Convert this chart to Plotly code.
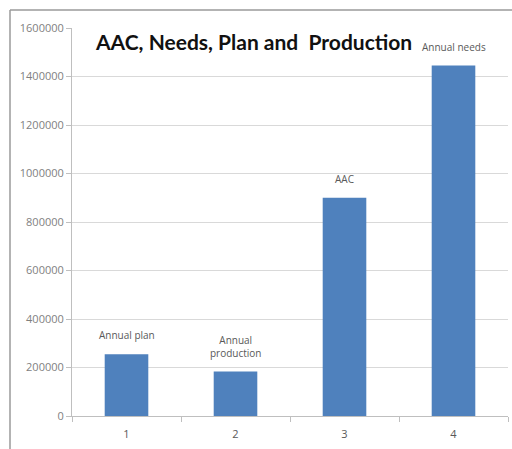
import plotly.graph_objects as go

categories = ["1", "2", "3", "4"]
values = [255000, 183000, 900000, 1445000]
bar_labels = ["Annual plan", "Annual<br>production", "AAC", "Annual needs"]
title_text = "AAC, Needs, Plan and  Production"

W, H = 512, 449
ML, MR, MT, MB = 72, 4, 28, 33
PW, PH = W - ML - MR, H - MT - MB

def px(x):
    return (x - ML) / PW

def py(y):
    return (H - MB - y) / PH

fig = go.Figure()
fig.add_trace(go.Bar(
    x=categories, y=values,
    marker=dict(color="#4F81BD", line=dict(width=0)),
    hoverinfo="skip",
))

for i, (v, t) in enumerate(zip(values, bar_labels)):
    fig.add_annotation(x=i, y=v, text=t, showarrow=False, yanchor="bottom",
                       yshift=10, font=dict(family="Open Sans", size=10, color="#595959"))

fig.add_annotation(xref="paper", yref="paper", x=px(253), y=py(42), text="<b>" + title_text + "</b>",
                   showarrow=False, xanchor="center", yanchor="middle",
                   font=dict(family="Lato", size=21, color="#111111"))

# outer frame
fig.add_shape(type="line", xref="paper", yref="paper", x0=px(10), x1=px(10), y0=py(10), y1=py(449),
              line=dict(color="#9a9a9a", width=1.5))
fig.add_shape(type="line", xref="paper", yref="paper", x0=px(10), x1=px(512), y0=py(10), y1=py(10),
              line=dict(color="#9a9a9a", width=1.5))

fig.update_layout(
    width=W, height=H,
    margin=dict(l=ML, r=MR, t=MT, b=MB),
    paper_bgcolor="white", plot_bgcolor="white",
    bargap=0.6,
    showlegend=False,
    xaxis=dict(type="category", range=[-0.5, 3.5], tickson="boundaries",
               ticks="outside", ticklen=5, tickcolor="#bfbfbf",
               showline=True, linecolor="#bfbfbf", linewidth=1,
               showgrid=False, zeroline=False, ticklabelstandoff=8,
               tickfont=dict(family="Open Sans", size=11, color="#595959")),
    yaxis=dict(range=[0, 1600000], dtick=200000, tickformat="d",
               ticks="outside", ticklen=5, tickcolor="#bfbfbf",
               showline=True, linecolor="#bfbfbf", linewidth=1,
               showgrid=True, gridcolor="#d9d9d9", gridwidth=1, zeroline=False,
               tickfont=dict(family="Open Sans", size=11, color="#7f7f7f")),
)

fig.write_html("out.html")
